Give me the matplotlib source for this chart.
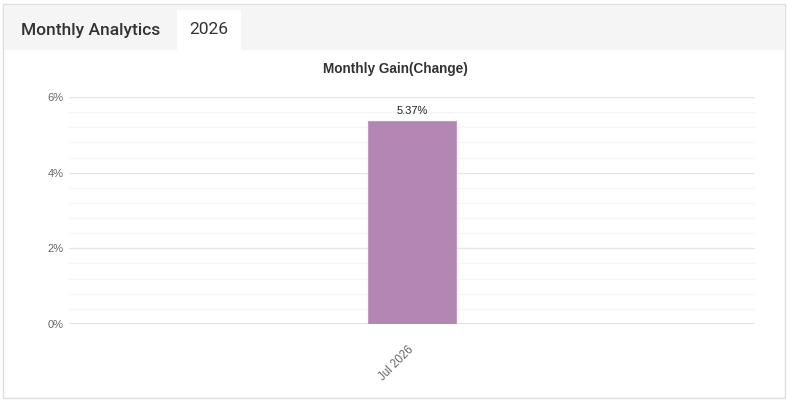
import matplotlib.pyplot as plt
import matplotlib.transforms as mtransforms
from matplotlib.patches import Rectangle
from matplotlib.ticker import MultipleLocator, FuncFormatter

# chart data
months = ["Jul 2026"]
gains = [5.37]
bar_labels = ["5.37%"]
y_ticks = [0, 2, 4, 6]

W, H = 787, 400
fig = plt.figure(figsize=(W / 100, H / 100), dpi=100)
fig.patch.set_facecolor("white")


def px(x0, y0, x1, y1):
    # pixel box (top-left origin) -> figure fraction rect
    return (x0 / W, 1 - y1 / H, (x1 - x0) / W, (y1 - y0) / H)


# outer panel border + header strip
x, y, w, h = px(3, 4, 785, 398)
fig.patches.append(Rectangle((x, y), w, h, transform=fig.transFigure,
                             facecolor="white", edgecolor="#dedede", lw=1, zorder=0))
x, y, w, h = px(4, 5, 784, 50)
fig.patches.append(Rectangle((x, y), w, h, transform=fig.transFigure,
                             facecolor="#f5f5f5", edgecolor="none", zorder=1))
x, y, w, h = px(177, 10, 241, 50)
fig.patches.append(Rectangle((x, y), w, h, transform=fig.transFigure,
                             facecolor="white", edgecolor="none", zorder=2))

fig.text(21 / W, 1 - 30 / H, "Monthly Analytics", fontsize=12.5, color="#333333",
         family="Roboto", fontweight="medium", va="center", ha="left", zorder=3)
fig.text(209 / W, 1 - 30 / H, "2026", fontsize=12.5, color="#333333",
         family="Roboto", va="center", ha="center", zorder=3)

fig.text(395 / W, 1 - 69 / H, "Monthly Gain(Change)", fontsize=9.8, fontweight="bold",
         color="#333333", family="Liberation Sans", ha="center", va="center", zorder=3)

ax = fig.add_axes(px(69, 97, 755, 324))
ax.set_zorder(5)
ax.set_facecolor("none")

pos = range(len(months))
bars = ax.bar(pos, gains, width=0.129, color="#b386b4", edgecolor="#c29ac3",
              linewidth=0.8, zorder=3)
for b, lab in zip(bars, bar_labels):
    ax.text(b.get_x() + b.get_width() / 2, b.get_height() + 0.12, lab,
            ha="center", va="bottom", fontsize=8, color="#222222",
            family="Liberation Sans", clip_on=False)

ax.set_xlim(-0.5, len(months) - 0.5)
ax.set_ylim(0, 6)
ax.set_yticks(y_ticks)
ax.yaxis.set_minor_locator(MultipleLocator(0.4))
ax.yaxis.set_major_formatter(FuncFormatter(lambda v, p: f"{v:.0f}%"))
ax.grid(axis="y", which="major", color="#e6e6e6", lw=1, zorder=0)
ax.grid(axis="y", which="minor", color="#f5f5f5", lw=1, zorder=0)
ax.axhline(0, color="#dcdcdc", lw=1.2, zorder=1)

ax.set_xticks(list(pos))
ax.set_xticklabels(months, rotation=45, ha="right", rotation_mode="anchor",
                   fontsize=8.3, color="#666666", family="Liberation Sans")
ax.tick_params(axis="x", pad=14)
ax.tick_params(axis="y", labelsize=8, labelcolor="#666666", pad=4)
ax.tick_params(axis="both", which="both", length=0)
for lbl in ax.get_yticklabels():
    lbl.set_family("Liberation Sans")
for s in ax.spines.values():
    s.set_visible(False)

# nudge the rotated month label a little left, as in the original
shift = mtransforms.ScaledTranslation(-4 / 100, 0, fig.dpi_scale_trans)
for lbl in ax.get_xticklabels():
    lbl.set_transform(lbl.get_transform() + shift)

fig.savefig("out.png", dpi=100, facecolor="white")
